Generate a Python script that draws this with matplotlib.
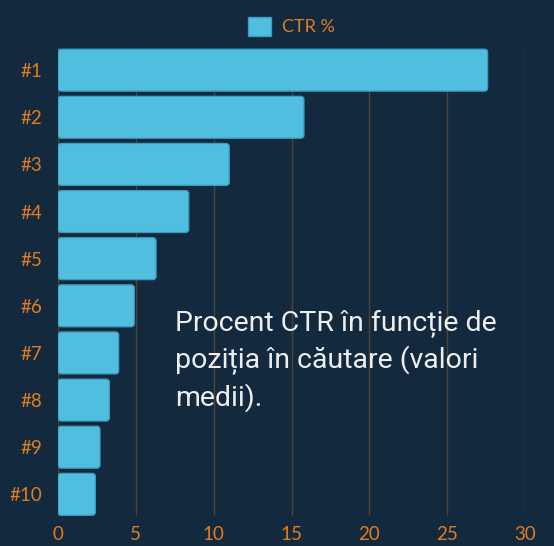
import matplotlib
matplotlib.use("Agg")
import matplotlib.pyplot as plt
from matplotlib.patches import FancyBboxPatch, Patch

categories = ["#1", "#2", "#3", "#4", "#5", "#6", "#7", "#8", "#9", "#10"]
ctr_values = [27.6, 15.8, 11.0, 8.4, 6.3, 4.9, 3.9, 3.3, 2.7, 2.4]
series_name = "CTR %"
x_ticks = [0, 5, 10, 15, 20, 25, 30]
note = "Procent CTR în funcție de\npoziția în căutare (valori\nmedii)."

BG = "#13293d"
BAR = "#50bedf"
EDGE = "#3c9cc0"
ORANGE = "#e07d22"
GRID = "#4e4536"

fig = plt.figure(figsize=(5.54, 5.46), dpi=100, facecolor=BG)
ax = fig.add_axes([58/554, 1-516/546, (525-58)/554, (516-48)/546])
ax.set_facecolor(BG)

ypos = list(range(len(categories)))
bars = ax.barh(ypos, ctr_values, height=0.89, color="none", edgecolor="none")
ax.set_xlim(0, 30)
ax.set_ylim(9.46, -0.47)

# rounded bars from bar geometry
xpp = 30 / 467.0
ypp = (9.46 + 0.47) / 468.0
for b in bars:
    x, y = b.get_x(), b.get_y()
    w, h = b.get_width(), b.get_height()
    p = FancyBboxPatch((x, y), w, h,
                       boxstyle="round,pad=0,rounding_size=0.2",
                       mutation_aspect=ypp / xpp,
                       facecolor=BAR, edgecolor=EDGE, linewidth=0.9, zorder=3)
    ax.add_patch(p)

ax.set_xticks(x_ticks)
ax.set_yticks(ypos)
ax.set_yticklabels(categories)
ax.grid(axis="x", color=GRID, linewidth=1.0, zorder=0)
ax.set_axisbelow(True)
for s in ax.spines.values():
    s.set_visible(False)
ax.tick_params(axis="both", length=0, labelcolor=ORANGE, labelsize=13.5)
ax.tick_params(axis="y", pad=11)
ax.tick_params(axis="x", pad=7)
for lab in ax.get_xticklabels() + ax.get_yticklabels():
    lab.set_fontfamily("Lato")

ax.text(7.5, 5.08, note, color="#eeeeee", fontsize=20.5, family="Roboto",
        va="top", ha="left", linespacing=1.36, zorder=5)

leg = ax.legend(handles=[Patch(facecolor=BAR, edgecolor=EDGE, label=series_name)],
                loc="lower center", bbox_to_anchor=(0.5, 1.0), frameon=False,
                prop={"family": "Lato", "size": 13}, handlelength=1.25,
                handleheight=1.3, handletextpad=0.6, borderaxespad=0.25)
for t in leg.get_texts():
    t.set_color(ORANGE)

fig.savefig("out.png", dpi=100, facecolor=BG)
